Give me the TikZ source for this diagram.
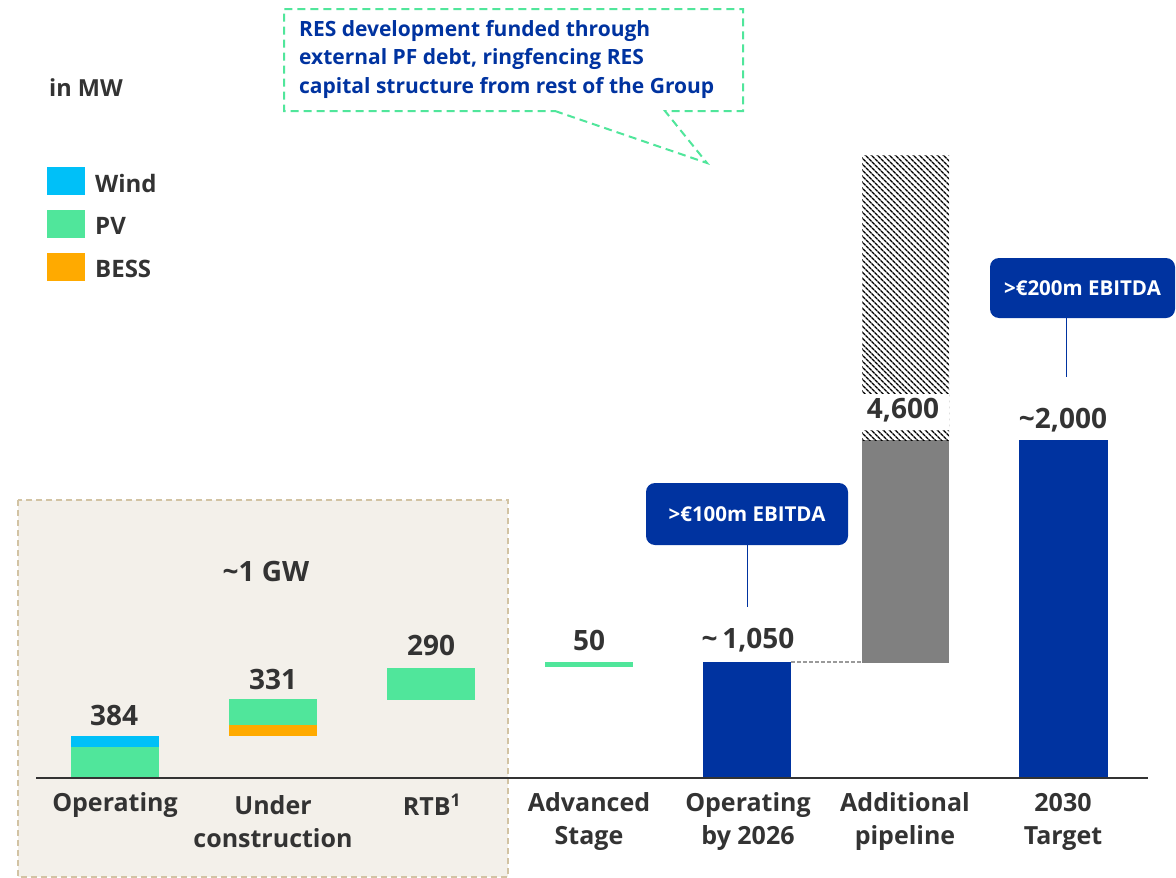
\documentclass[tikz,border=0pt]{standalone}
\usepackage{fontspec}
\setmainfont{Open Sans}
\usetikzlibrary{patterns.meta}
\definecolor{windc}{HTML}{00C0F8}
\definecolor{pvc}{HTML}{50E69B}
\definecolor{bessc}{HTML}{FFAA00}
\definecolor{navy}{HTML}{0033A0}
\definecolor{txt}{HTML}{333333}
\definecolor{beige}{HTML}{F3F0EA}
\definecolor{beigeb}{HTML}{D2C3A3}
\definecolor{pipe}{HTML}{808080}
\begin{document}
\begin{tikzpicture}[x=1pt,y=-1pt,
 lbl/.style={text=txt,font=\fontsize{25}{33}\selectfont\bfseries,align=center},
 val/.style={text=txt,font=\fontsize{28}{30}\selectfont\bfseries},
 ebit/.style={fill=navy,rounded corners=9pt,text=white,font=\fontsize{20.5}{22}\selectfont\bfseries,inner sep=0pt},
 leg/.style={text=txt,font=\fontsize{24}{26}\selectfont\bfseries,anchor=west,inner sep=0pt},
 legbox/.style={minimum width=38pt,minimum height=28pt,inner sep=0pt},
 stem/.style={navy,line width=1pt},
]
\useasboundingbox (0,0) rectangle (1176,878);
\fill[white] (0,0) rectangle (1176,878);
% beige box
\draw[fill=beige,draw=beigeb,line width=1.5pt,dash pattern=on 6pt off 4pt] (18,500) rectangle (508,877);
% bars
\fill[pvc] (71,747) rectangle (159,778);
\fill[windc] (71,736) rectangle (159,747);
\fill[pvc] (229,699) rectangle (317,725);
\fill[bessc] (229,725) rectangle (317,736);
\fill[pvc] (387,668) rectangle (475,700);
\fill[pvc] (545,662) rectangle (633,667);
\fill[navy] (703,662) rectangle (791,778);
\fill[pipe] (862,440) rectangle (949,663);
\fill[pattern={Lines[angle=-45,distance=4pt,line width=1.4pt]}] (862,155) rectangle (949,440);
\fill[white] (862,394) rectangle (949,430);
\fill[navy] (1019,440) rectangle (1108,778);
% axis
\coordinate (axL) at (36,778);
\coordinate (axR) at (1148,778);
\draw[txt,line width=1.5pt] (axL) -- (axR);
% dashed connector
\coordinate (b26tr) at (791,662);
\coordinate (pipebl) at (862,662);
\draw[pipe!80,line width=1.2pt,dash pattern=on 4pt off 2pt] (b26tr) -- (pipebl);
% values
\node[val] (v384) at (114,715) {384};
\node[val] (v331) at (273,679) {331};
\node[val] (v290) at (431,645) {290};
\node[val] (v1gw) at (266,571) {\textasciitilde 1 GW};
\node[val] (v50) at (589,640) {50};
\node[val] (v1050) at (748,640) {\textasciitilde\,1,050};
\node[val] (v4600) at (903,410) {4,600};
\node[val] (v2000) at (1063,420) {\textasciitilde 2,000};
% category labels
\node[lbl] (cOp) at (115,805) {Operating};
\node[lbl] (cUc) at (273,821.5) {Under\\construction};
\node[lbl] (cRtb) at (432,805) {RTB\textsuperscript{1}};
\node[lbl] (cAdv) at (589,821.5) {Advanced\\Stage};
\node[lbl] (cOp26) at (748,821.5) {Operating\\by 2026};
\node[lbl] (cAdd) at (905,821.5) {Additional\\pipeline};
\node[lbl] (c2030) at (1063,821.5) {2030\\Target};
% EBITDA boxes
\node[ebit,minimum width=202pt,minimum height=62pt] (e100) at (747,514) {>€100m EBITDA};
\coordinate (s100) at (747,607);
\draw[stem] (e100.south) -- (s100);
\node[ebit,minimum width=185pt,minimum height=60pt] (e200) at (1082.5,288) {>€200m EBITDA};
\coordinate (s200) at (1066,377);
\draw[stem] (e200.south -| s200) -- (s200);
% callout
\draw[pvc,line width=2pt,dash pattern=on 8pt off 5pt] (555,111) -- (707,163) -- (665,111) -- (743,111) -- (743,9) -- (284,9) -- (284,111) -- cycle;
\node[anchor=north west,text=navy,align=left,inner sep=0pt,font=\fontsize{21}{28.5}\selectfont\bfseries] (call) at (299,20) {RES development funded through\\external PF debt, ringfencing RES\\capital structure from rest of the Group};
% legend
\node[text=txt,font=\fontsize{23.5}{25}\selectfont\bfseries,anchor=west,inner sep=0pt] (unit) at (49,88) {in MW};
\node[legbox,fill=windc] (lw) at (66,181) {};
\node[leg] (lwt) at (95,183) {Wind};
\node[legbox,fill=pvc] (lp) at (66,224) {};
\node[leg] (lpt) at (95,226) {PV};
\node[legbox,fill=bessc] (lb) at (66,267) {};
\node[leg] (lbt) at (95,269) {BESS};
\end{tikzpicture}
\end{document}
